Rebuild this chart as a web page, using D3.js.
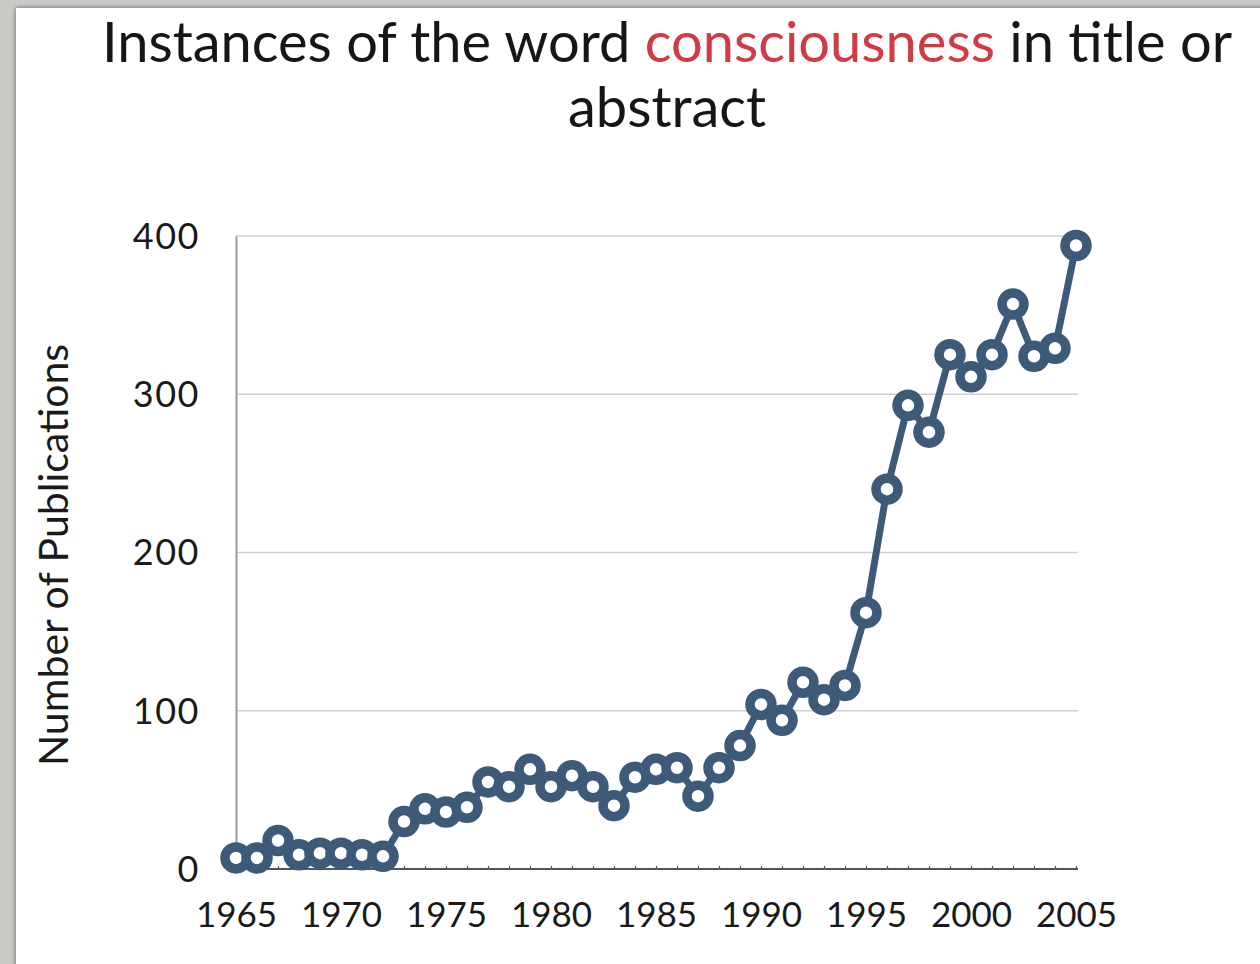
<!DOCTYPE html>
<html>
<head>
<meta charset="utf-8">
<script src="https://cdn.jsdelivr.net/npm/d3@7"></script>
<style>
  html, body { margin: 0; padding: 0; background: #c9c9c6; }
  svg { display: block; }
</style>
</head>
<body>
<svg id="chart" width="1260" height="964"></svg>
<script>
// Publications per year mentioning "consciousness" in title or abstract
const years = d3.range(1965, 2006);
const counts = [
  7, 7, 18, 9, 10, 10, 9, 8, 30, 38,
  36, 39, 55, 52, 63, 52, 59, 52, 40, 58,
  63, 64, 46, 64, 78, 104, 94, 118, 107, 116,
  162, 240, 293, 276, 325, 311, 325, 357, 324, 329,
  394
];
const yTicks = [0, 100, 200, 300, 400];
const xTickLabels = [1965, 1970, 1975, 1980, 1985, 1990, 1995, 2000, 2005];
const titleParts = [
  { text: "Instances of the word ", color: "#161616" },
  { text: "consciousness", color: "#d23a44" },
  { text: " in title or", color: "#161616" }
];
const titleLine2 = "abstract";
const yLabel = "Number of Publications";

const data = years.map((yr, i) => ({ year: yr, value: counts[i] }));

const svg = d3.select("#chart");
const font = "Lato, 'Open Sans', sans-serif";

// page frame: grey border with white sheet
const defs = svg.append("defs");
const sh = defs.append("filter").attr("id", "sheetShadow")
  .attr("x", "-5%").attr("y", "-5%").attr("width", "110%").attr("height", "110%");
sh.append("feGaussianBlur").attr("in", "SourceAlpha").attr("stdDeviation", 2.5);
sh.append("feComponentTransfer").append("feFuncA").attr("type", "linear").attr("slope", 0.5);
const m = sh.append("feMerge");
m.append("feMergeNode");
m.append("feMergeNode").attr("in", "SourceGraphic");

svg.append("rect").attr("width", 1260).attr("height", 964).attr("fill", "#c9c9c6");
svg.append("rect").attr("x", 16).attr("y", 8).attr("width", 1260).attr("height", 980)
  .attr("fill", "#ffffff").attr("filter", "url(#sheetShadow)");

// scales
const x = d3.scaleLinear().domain([1965, 2005]).range([236, 1076]);
const y = d3.scaleLinear().domain([0, 400]).range([869, 236]);
const xEnd = 1078;

// gridlines
svg.append("g")
  .selectAll("line")
  .data(yTicks.filter(t => t > 0))
  .join("line")
  .attr("x1", x(1965)).attr("x2", xEnd)
  .attr("y1", d => y(d)).attr("y2", d => y(d))
  .attr("stroke", "#cfcfcf").attr("stroke-width", 1.6);

// y axis
const yAxis = d3.axisLeft(y).tickValues(yTicks).tickSize(0).tickPadding(36);
const gy = svg.append("g").attr("transform", `translate(${x(1965)},0)`).call(yAxis);
gy.select(".domain").attr("stroke", "#9a9a9a").attr("stroke-width", 2);
gy.selectAll("text").attr("font-family", font).attr("font-size", 36)
  .attr("letter-spacing", 1.5)
  .attr("fill", "#1a1a1a").attr("dy", "0.34em");

// x axis: minor ticks every year, labels every five years
const xMinor = d3.axisTop(x).tickValues(years).tickSize(3).tickFormat("");
const gxm = svg.append("g").attr("transform", `translate(0,${y(0)})`).call(xMinor);
gxm.select(".domain").remove();
gxm.selectAll("line").attr("stroke", "#555").attr("stroke-width", 1.2);

svg.append("line")
  .attr("x1", x(1965)).attr("x2", xEnd)
  .attr("y1", y(0)).attr("y2", y(0))
  .attr("stroke", "#555").attr("stroke-width", 1.8);

const xAxis = d3.axisBottom(x).tickValues(xTickLabels).tickSize(0).tickPadding(33).tickFormat(d3.format("d"));
const gx = svg.append("g").attr("transform", `translate(0,${y(0)})`).call(xAxis);
gx.select(".domain").remove();
gx.selectAll("text").attr("font-family", font).attr("font-size", 35)
  .attr("fill", "#1a1a1a");

// series line
const seriesColor = "#3e5a79";
const line = d3.line().x(d => x(d.year)).y(d => y(d.value));
svg.append("path")
  .datum(data)
  .attr("d", line)
  .attr("fill", "none")
  .attr("stroke", seriesColor)
  .attr("stroke-width", 7)
  .attr("stroke-linejoin", "round");

// ring markers
svg.append("g")
  .selectAll("circle")
  .data(data)
  .join("circle")
  .attr("cx", d => x(d.year))
  .attr("cy", d => y(d.value))
  .attr("r", 11)
  .attr("fill", "#ffffff")
  .attr("stroke", seriesColor)
  .attr("stroke-width", 9.5);

// title
const title = svg.append("text")
  .attr("x", 667).attr("y", 62)
  .attr("text-anchor", "middle")
  .attr("font-family", font).attr("font-size", 56);
title.selectAll("tspan").data(titleParts).join("tspan")
  .attr("fill", d => d.color)
  .attr("xml:space", "preserve")
  .text(d => d.text);
svg.append("text")
  .attr("x", 667).attr("y", 127)
  .attr("text-anchor", "middle")
  .attr("font-family", font).attr("font-size", 56)
  .attr("fill", "#161616")
  .text(titleLine2);

// y axis title
svg.append("text")
  .attr("transform", `translate(68,555) rotate(-90)`)
  .attr("text-anchor", "middle")
  .attr("font-family", font).attr("font-size", 41)
  .attr("fill", "#1a1a1a")
  .text(yLabel);
</script>
</body>
</html>
